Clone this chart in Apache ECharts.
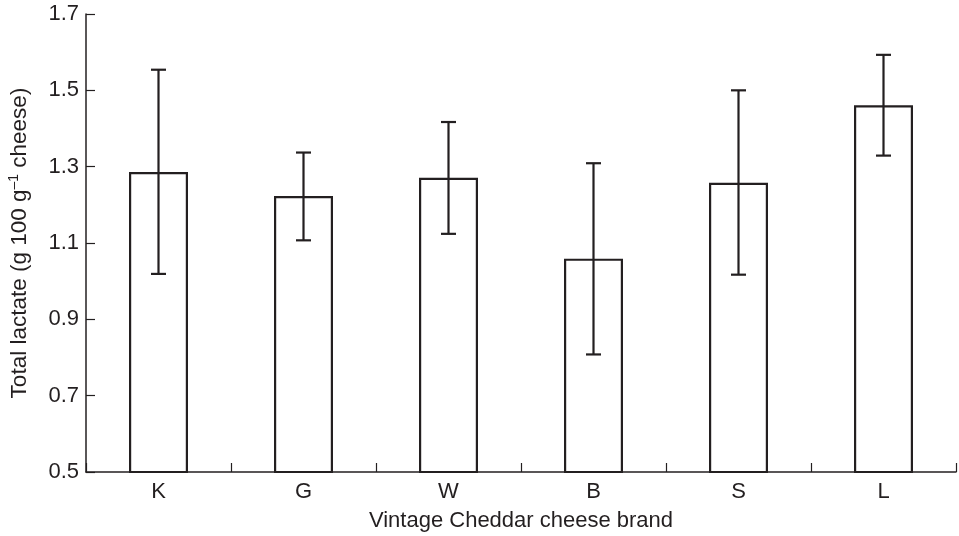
<!DOCTYPE html>
<html>
<head>
<meta charset="utf-8">
<script src="https://cdn.jsdelivr.net/npm/echarts@6/dist/echarts.min.js"></script>
<style>html,body{margin:0;padding:0;background:#fff}#c{width:959px;height:536px}</style>
</head>
<body>
<div id="c"></div>
<script>
var categories = ['K', 'G', 'W', 'B', 'S', 'L'];
var means = [1.286, 1.223, 1.271, 1.059, 1.258, 1.461];
var upper = [1.554, 1.337, 1.417, 1.309, 1.500, 1.593];
var lower = [1.019, 1.107, 1.124, 0.808, 1.017, 1.329];
var yTicks = [0.5, 0.7, 0.9, 1.1, 1.3, 1.5, 1.7];

var ink = '#231f20';
var font = 'Liberation Sans, Arial, Helvetica, sans-serif';
var chart = echarts.init(document.getElementById('c'));

var errData = categories.map(function (c, i) { return [i, lower[i], upper[i]]; });

chart.setOption({
  animation: false,
  grid: { left: 86, right: 3, top: 14, bottom: 64, containLabel: false, outerBoundsMode: 'none' },
  xAxis: {
    type: 'category',
    data: categories,
    boundaryGap: true,
    name: 'Vintage Cheddar cheese brand',
    nameLocation: 'middle',
    nameGap: 38,
    nameTextStyle: { color: ink, fontSize: 22, fontFamily: font },
    axisLine: { show: true, lineStyle: { color: ink, width: 1.5 } },
    axisTick: { show: true, interval: 0, alignWithLabel: false, inside: true, length: 9, lineStyle: { color: ink, width: 1.2 } },
    axisLabel: { color: ink, fontSize: 22, fontFamily: font, margin: 9 }
  },
  yAxis: {
    type: 'value',
    min: yTicks[0],
    max: yTicks[yTicks.length - 1],
    interval: 0.2,
    name: 'Total lactate (g 100 g{sup|\u20131} cheese)',
    nameLocation: 'middle',
    nameGap: 53,
    nameRotate: 90,
    nameTextStyle: {
      color: ink, fontSize: 22.5, fontFamily: font,
      rich: { sup: { fontSize: 14, color: ink, fontFamily: font, verticalAlign: 'top', lineHeight: 26 } }
    },
    splitLine: { show: false },
    axisLine: { show: true, lineStyle: { color: ink, width: 1.5 } },
    axisTick: { show: true, inside: true, length: 9, lineStyle: { color: ink, width: 1.2 } },
    axisLabel: {
      color: ink, fontSize: 22, fontFamily: font, margin: 7,
      formatter: function (v) { return v.toFixed(1); }
    }
  },
  series: [
    {
      type: 'bar',
      data: means,
      barWidth: 59,
      itemStyle: { color: '#fff', borderColor: ink, borderWidth: 2.2 },
      silent: true
    },
    {
      type: 'custom',
      data: errData,
      z: 5,
      renderItem: function (params, api) {
        var x = api.value(0);
        var lo = api.coord([x, api.value(1)]);
        var hi = api.coord([x, api.value(2)]);
        var half = 7.5;
        var style = { stroke: ink, lineWidth: 2.2, fill: null };
        return {
          type: 'group',
          children: [
            { type: 'line', shape: { x1: lo[0], y1: lo[1], x2: hi[0], y2: hi[1] }, style: style },
            { type: 'line', shape: { x1: lo[0] - half, y1: lo[1], x2: lo[0] + half, y2: lo[1] }, style: style },
            { type: 'line', shape: { x1: hi[0] - half, y1: hi[1], x2: hi[0] + half, y2: hi[1] }, style: style }
          ]
        };
      }
    }
  ]
});
</script>
</body>
</html>
